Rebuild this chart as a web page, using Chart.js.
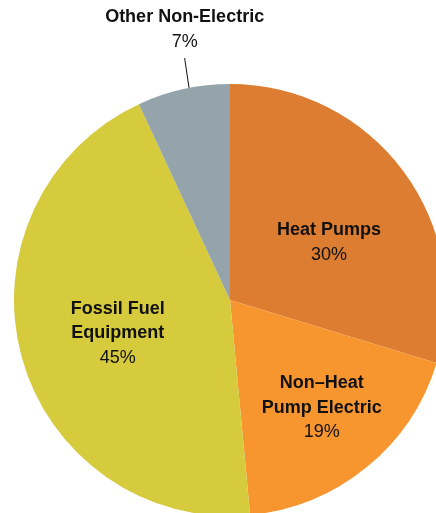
<!DOCTYPE html>
<html>
<head>
<meta charset="utf-8">
<script src="https://cdn.jsdelivr.net/npm/chart.js@4/dist/chart.umd.min.js"></script>
<style>
  html, body { margin: 0; padding: 0; background: #fff; overflow: hidden; }
  #wrap { width: 460px; height: 530px; }
</style>
</head>
<body>
<div id="wrap"><canvas id="pie" width="460" height="530"></canvas></div>
<script>
const categories = ['Heat Pumps', 'Non\u2013Heat Pump Electric', 'Fossil Fuel Equipment', 'Other Non-Electric'];
const shares = [30, 19, 45, 7];
const sliceColors = ['#dc7d31', '#f7962f', '#d6ca3d', '#95a4ab'];

// label text lines per slice, and where each block sits (offset from pie centre, in radii)
const labelLines = [
    ['Heat Pumps'],
    ['Non\u2013Heat', 'Pump Electric'],
    ['Fossil Fuel', 'Equipment'],
    ['Other Non-Electric']
];
const labelAnchors = [
    [0.458, -0.265],
    [0.425, 0.50],
    [-0.52, 0.155],
    [-0.21, -1.252]
];

const sliceLabels = {
    id: 'sliceLabels',
    afterDraw(chart) {
        const ctx = chart.ctx;
        const arcs = chart.getDatasetMeta(0).data;
        const cx = arcs[0].x, cy = arcs[0].y, r = arcs[0].outerRadius;
        const lineH = 24.5;
        ctx.save();
        ctx.fillStyle = '#111';
        ctx.textAlign = 'center';
        ctx.textBaseline = 'middle';
        labelLines.forEach((lines, i) => {
            const rows = lines.length + 1;
            const bx = cx + labelAnchors[i][0] * r;
            const by = cy + labelAnchors[i][1] * r;
            let y = by - (rows - 1) * lineH / 2;
            ctx.font = 'bold 18px "Liberation Sans", Arial, sans-serif';
            lines.forEach(t => { ctx.fillText(t, bx, y); y += lineH; });
            ctx.font = '18px "Liberation Sans", Arial, sans-serif';
            ctx.fillText(shares[i] + '%', bx, y);
        });

        // leader line for the small slice, from its label down to the rim
        const a = arcs[3];
        const mid = (a.startAngle + a.endAngle) / 2 + 0.027;
        const ex = cx + Math.cos(mid) * r;
        const ey = cy + Math.sin(mid) * r;
        ctx.strokeStyle = '#111';
        ctx.lineWidth = 1;
        ctx.beginPath();
        ctx.moveTo(cx + labelAnchors[3][0] * r, cy - 1.12 * r);
        ctx.lineTo(ex, ey);
        ctx.stroke();
        ctx.restore();
    }
};

new Chart(document.getElementById('pie'), {
    type: 'pie',
    data: {
        labels: categories,
        datasets: [{
            data: shares,
            backgroundColor: sliceColors,
            borderWidth: 0
        }]
    },
    options: {
        responsive: false,
        animation: false,
        layout: { padding: { left: 14, right: 14, top: 84, bottom: 14 } },
        plugins: {
            legend: { display: false },
            tooltip: { enabled: false }
        }
    },
    plugins: [sliceLabels]
});
</script>
</body>
</html>
